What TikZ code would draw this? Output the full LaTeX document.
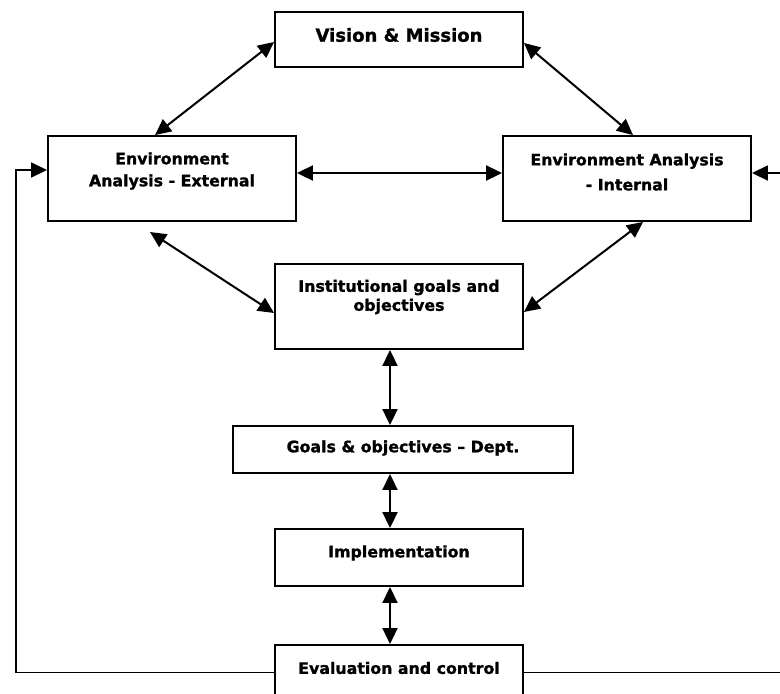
\documentclass[tikz,border=0pt]{standalone}
\usepackage{fontspec}
\setmainfont{DejaVu Sans}[BoldFeatures={FakeBold=1.2}]
\usetikzlibrary{arrows.meta}

\begin{document}
\begin{tikzpicture}[x=1pt,y=-1pt,
    box/.style={draw=black, line width=1.9pt, inner sep=0pt},
    txt/.style={font=\bfseries\fontsize{15.8}{22}\selectfont, align=center, inner sep=0pt},
    link/.style={line width=2pt, {Triangle[length=16pt,width=15pt]}-{Triangle[length=16pt,width=15pt]}},
    back/.style={line width=1.8pt, -{Triangle[length=16pt,width=15pt]}}]
    \useasboundingbox (0,0) rectangle (780,694);
    % boxes
    \node [box, minimum width=248, minimum height=55] (vis) at (399,39.5) {};
    \node [box, minimum width=248, minimum height=85] (ext) at (172,178.5) {};
    \node [box, minimum width=248, minimum height=85] (int) at (627,178.5) {};
    \node [box, minimum width=248, minimum height=85] (inst) at (399,306.5) {};
    \node [box, minimum width=340, minimum height=47] (dept) at (403,449.5) {};
    \node [box, minimum width=248, minimum height=57] (impl) at (399,557.5) {};
    \node [box, minimum width=248, minimum height=55] (eval) at (399,672.5) {};
    % texts
    \node [txt, font=\bfseries\fontsize{18}{22}\selectfont] (visT) at (399,35) {Vision \& Mission};
    \node [txt] (extT) at (172,171) {Environment\\Analysis - External};
    \node [txt] (intT) at (627,172) {Environment Analysis\\[3pt]- Internal};
    \node [txt] (instT) at (399,297) {Institutional goals and\\[-3pt]objectives};
    \node [txt] (deptT) at (403,448) {Goals \& objectives – Dept.};
    \node [txt] (implT) at (399,553) {Implementation};
    \node [txt] (evalT) at (399,668) {Evaluation and control};
    % free ends
    \coordinate (spine) at (390,0);
    \coordinate (extout) at (150,232);
    \coordinate (lft) at (16,170);
    \coordinate (rgt) at (792,173);
    % connectors
    \draw [link] ([yshift=-2.5pt]vis.west) -- ([xshift=-17pt]ext.north);
    \draw [link] ([yshift=-3.5pt]vis.east) -- ([xshift=6pt]int.north);
    \draw [link] ([yshift=5.5pt]ext.east) -- ([yshift=5.5pt]int.west);
    \draw [link] (extout) -- ([yshift=-6.5pt]inst.west);
    \draw [link] ([xshift=16pt]int.south) -- ([yshift=-5.5pt]inst.east);
    \draw [link] (inst.south -| spine) -- (dept.north -| spine);
    \draw [link] (dept.south -| spine) -- (impl.north -| spine);
    \draw [link] (impl.south -| spine) -- (eval.north -| spine);
    % feedback
    \draw [back] (eval.west) -| (lft) -- (lft -| ext.west);
    \draw [back] (eval.east) -| (rgt) -- (rgt -| int.east);
\end{tikzpicture}
\end{document}
